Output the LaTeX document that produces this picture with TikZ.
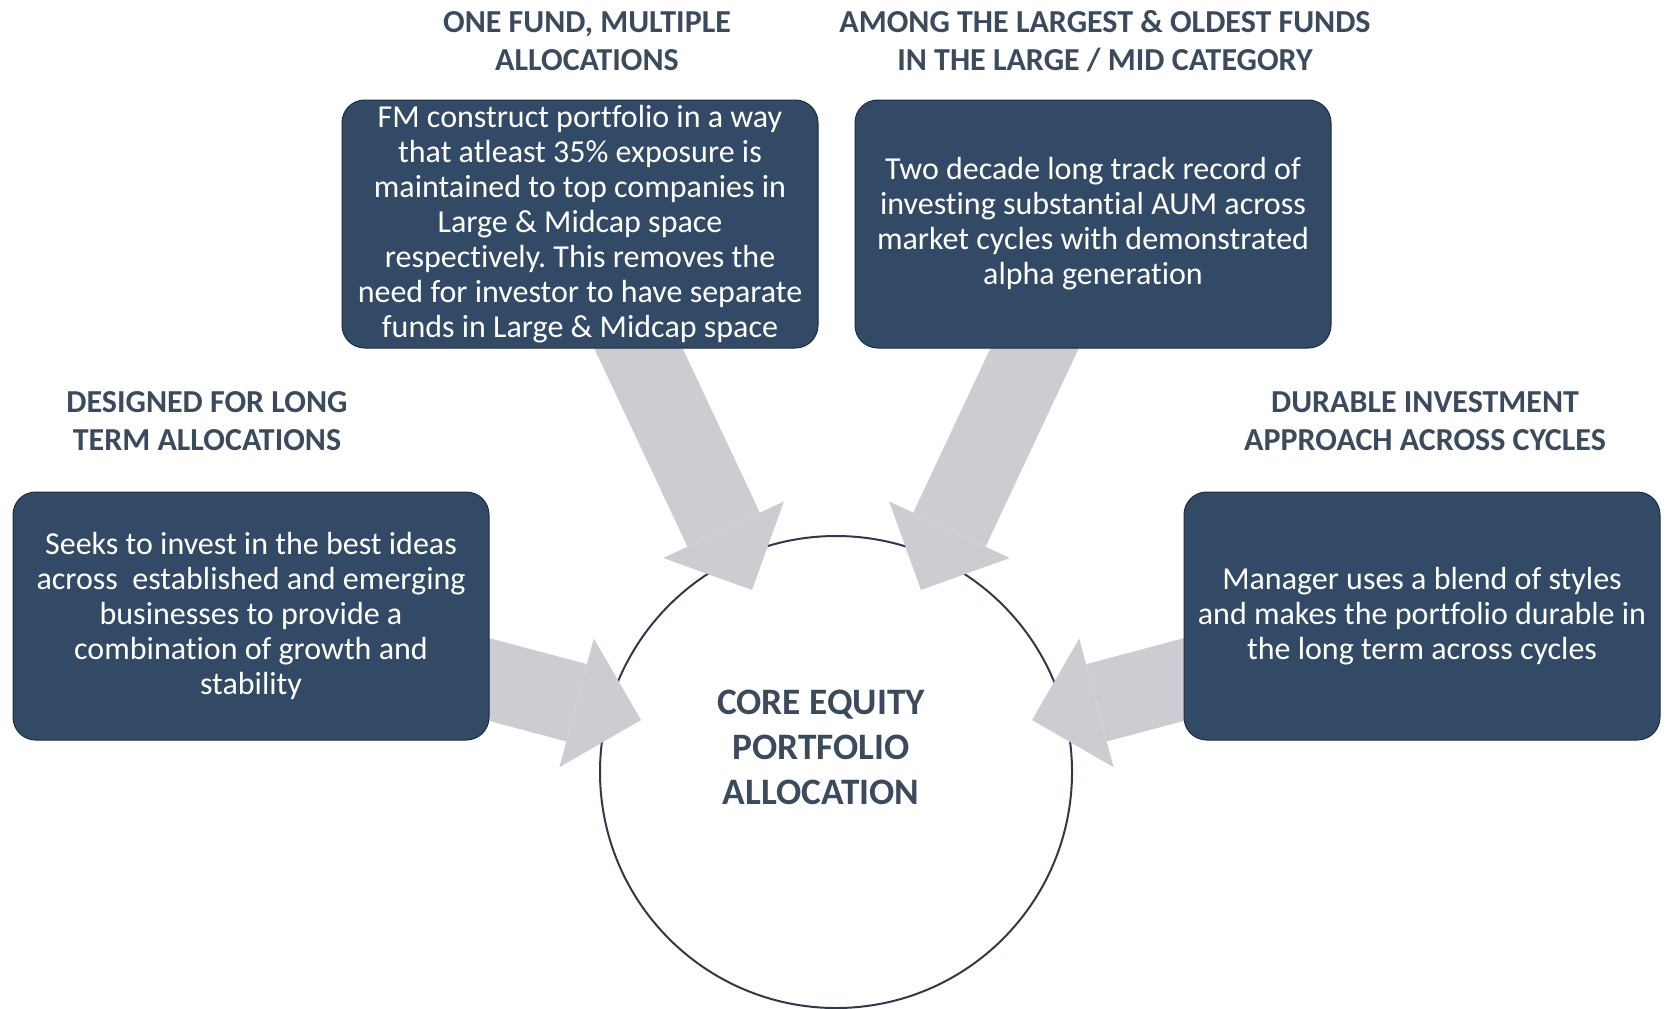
\documentclass[tikz,border=0pt]{standalone}
\usepackage{fontspec}
\setmainfont{Carlito}[Ligatures=NoCommon]
\usetikzlibrary{arrows.meta,backgrounds}
\frenchspacing

\definecolor{boxblue}{HTML}{334A66}
\definecolor{boxedge}{HTML}{1F2C3C}
\definecolor{headgray}{HTML}{3B4A5D}
\definecolor{feedgray}{HTML}{CBCDD2}
\definecolor{ringline}{HTML}{2E3A4B}

\tikzset{every picture/.style={line width=0.75pt}}
\tikzset{
  infobox/.style={draw=boxedge, fill=boxblue, rounded corners=17pt, minimum width=357pt, minimum height=186pt, inner sep=0pt, align=center, text=white, font=\fontsize{24}{26.25}\selectfont},
  heading/.style={inner sep=0pt, align=center, text=headgray, font=\bfseries\fontsize{24}{28.5}\selectfont},
  feed/.style={draw=feedgray, line width=60pt, -{Triangle[length=50pt,width=100pt,line width=0pt]}},
}

\begin{document}
\begin{tikzpicture}[x=0.75pt,y=0.75pt,yscale=-1]
\useasboundingbox (0,0) rectangle (1665,1008);

%Rounded Rect
\node[infobox] (fund) at (580,224) {FM construct portfolio in a way\\that atleast 35\% exposure is\\maintained to top companies in\\Large \& Midcap space\\respectively. This removes the\\need for investor to have separate\\funds in Large \& Midcap space};
%Rounded Rect
\node[infobox] (track) at (1093,224) {Two decade long track record of\\investing substantial AUM across\\market cycles with demonstrated\\alpha generation};
%Rounded Rect
\node[infobox] (ideas) at (251,616) {Seeks to invest in the best ideas\\across~ established and emerging\\businesses to provide a\\combination of growth and\\stability};
%Rounded Rect
\node[infobox] (blend) at (1422,616) {Manager uses a blend of styles\\and makes the portfolio durable in\\the long term across cycles};

% Text Node
\node[heading] (fundhead) at (587,41) {ONE FUND, MULTIPLE\\ALLOCATIONS};
% Text Node
\node[heading] (trackhead) at (1105,41) {AMONG THE LARGEST \& OLDEST FUNDS\\IN THE LARGE / MID CATEGORY};
% Text Node
\node[heading] (ideashead) at (207,421) {DESIGNED FOR LONG\\TERM ALLOCATIONS};
% Text Node
\node[heading] (blendhead) at (1425,421) {DURABLE INVESTMENT\\APPROACH ACROSS CYCLES};

%Arrow ends
\coordinate (fundtip) at (752,590);
\coordinate (tracktip) at (921,590);
\coordinate (ideastip) at (641,720);
\coordinate (blendtip) at (1032,720);

\begin{scope}[on background layer]
%Circle
\node[circle, draw=ringline, line width=1.5pt, minimum size=354pt, inner sep=0pt] (core) at (836,772) {};
%Block Arrows
\draw[feed] (fund.center) -- (fundtip);
\draw[feed] (track.center) -- (tracktip);
\draw[feed] (ideas.center) -- (ideastip);
\draw[feed] (blend.center) -- (blendtip);
\end{scope}

% Text Node
\node[heading, font=\bfseries\fontsize{28}{33.75}\selectfont] (coretext) at (821,747) {CORE EQUITY\\PORTFOLIO\\ALLOCATION};

\end{tikzpicture}
\end{document}
